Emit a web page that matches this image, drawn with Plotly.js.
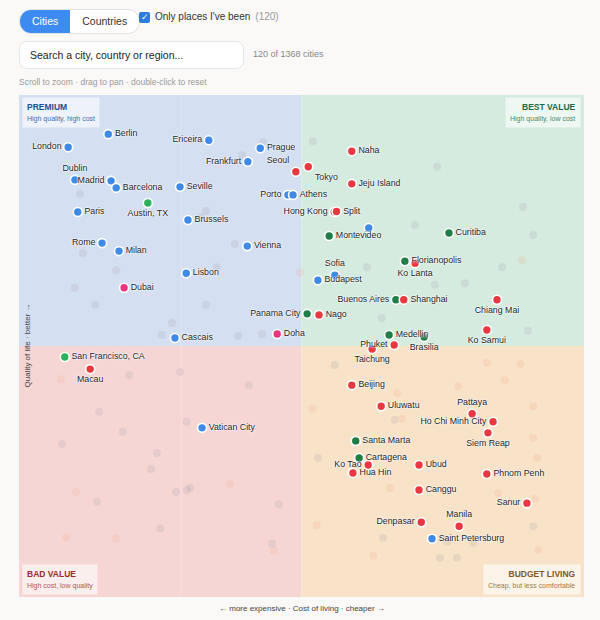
<!DOCTYPE html>
<html><head><meta charset="utf-8">
<script src="https://cdn.plot.ly/plotly-3.0.1.min.js"></script>
<style>
html,body{margin:0;padding:0;background:#faf9f7;font-family:"Liberation Sans",Arial,sans-serif;}
#wrap{position:relative;width:600px;height:620px;overflow:hidden;}
#plot{position:absolute;left:0;top:0;width:600px;height:620px;}
.ui{position:absolute;z-index:5;}
.seg{left:19px;top:9px;height:23px;display:flex;border:1px solid #e3e3e3;border-radius:12px;overflow:hidden;background:#fff;font-size:10.5px;}
.seg div{padding:0 12px;line-height:23px;color:#333;}
.seg .on{background:#3d8bf0;color:#fff;}
.chk{left:139px;top:12px;width:11px;height:11px;background:#2f7be0;border-radius:2px;color:#fff;font-size:9px;line-height:11px;text-align:center;}
.chkl{left:155px;top:11px;font-size:10px;color:#333;}
.chkl span{color:#999;margin-left:5px;}
.search{left:19px;top:41px;width:213px;height:26px;border:1px solid #e6e6e6;border-radius:8px;background:#fff;font-size:10.5px;color:#222;line-height:26px;padding-left:10px;}
.count{left:253px;top:49px;font-size:9px;color:#888;}
.hint{left:19px;top:77px;font-size:8.5px;color:#999;}
</style></head>
<body><div id="wrap">
<div id="plot"></div>
<div class="ui seg"><div class="on">Cities</div><div>Countries</div></div>
<div class="ui chk">✓</div>
<div class="ui chkl">Only places I've been<span>(120)</span></div>
<div class="ui search">Search a city, country or region...</div>
<div class="ui count">120 of 1368 cities</div>
<div class="ui hint">Scroll to zoom · drag to pan · double-click to reset</div>
</div>
<script>
// Visited cities: cost-of-living score (higher = cheaper) and quality-of-life score
const cities = ["London","Berlin","Ericeira","Prague","Frankfurt","Dublin","Madrid","Barcelona","Seville","Austin, TX","Paris","Brussels","Porto","Athens","Seoul","Tokyo","Hong Kong","Split","Naha","Jeju Island","Montevideo","","Curitiba","Sofia","Budapest","Florianopolis","Ko Lanta","Buenos Aires","Shanghai","Chiang Mai","Panama City","Nago","Doha","Cascais","Medellin","Brasilia","Ko Samui","Phuket","Taichung","Beijing","Uluwatu","Pattaya","Ho Chi Minh City","Siem Reap","Santa Marta","Cartagena","Ko Tao","Hua Hin","Ubud","Phnom Penh","Canggu","Sanur","Manila","Denpasar","Saint Petersburg","San Francisco, CA","Macau","Vatican City","Rome","Milan","Vienna","Lisbon","Dubai"];
const costScore = [8.7,15.8,33.6,42.7,40.5,9.9,16.3,17.2,28.5,22.8,10.4,29.9,47.6,48.5,49.0,51.2,55.8,56.2,58.9,58.9,54.9,61.9,76.1,55.9,52.9,68.3,70.1,66.7,68.1,84.6,51.0,53.1,45.7,27.6,65.5,71.7,82.8,66.4,62.5,58.9,64.1,80.2,83.9,83.0,59.6,60.2,61.8,59.1,70.8,82.8,70.8,89.9,77.9,71.2,73.1,8.1,12.6,32.4,14.7,17.7,40.4,29.6,18.6];
const qualityScore = [89.6,92.2,91.0,89.4,86.7,83.1,82.9,81.5,81.7,78.5,76.7,75.1,80.1,80.1,84.7,85.7,76.7,76.8,88.8,82.3,71.9,73.5,72.5,64.1,63.1,66.9,66.5,59.2,59.2,59.2,56.4,56.2,52.4,51.6,52.2,51.8,53.2,50.2,49.4,42.2,38.0,36.5,34.9,32.7,31.1,27.7,26.3,24.7,26.3,24.5,21.3,18.7,14.1,14.9,11.6,47.8,45.4,33.7,70.5,68.9,69.9,64.5,61.6];
const region = ["Europe","Europe","Europe","Europe","Europe","Europe","Europe","Europe","Europe","USA","Europe","Europe","Europe","Europe","Asia","Asia","Asia","Asia","Asia","Asia","Americas","Europe","Americas","Europe","Europe","Americas","Asia","Americas","Asia","Asia","Americas","Asia","Middle East","Europe","Americas","Americas","Asia","Asia","Asia","Asia","Asia","Asia","Asia","Asia","Americas","Americas","Asia","Asia","Asia","Asia","Asia","Asia","Asia","Asia","Europe","USA","Asia","Europe","Europe","Europe","Europe","Europe","Middle East"];
const labelSide = ["middle left","middle right","middle left","middle right","middle left","top center","middle left","middle right","middle right","bottom center","middle right","middle right","middle left","middle right","top left","bottom right","middle left","middle right","middle right","middle right","middle right","middle right","middle right","top center","middle right","middle right","bottom center","middle left","middle right","bottom center","middle left","middle right","middle right","middle right","middle right","bottom center","bottom center","middle left","bottom center","middle right","middle right","top center","middle left","bottom center","middle right","middle right","middle left","middle right","middle right","middle right","middle right","middle left","top center","middle left","middle right","middle right","bottom center","middle right","middle left","middle right","middle right","middle right","middle right"];

// Other (not visited) cities, shown faded
const otherCost = [10.8,33.1,32.2,43.2,39.5,11.3,17.2,9.9,13.5,33.1,27.1,25.3,38.8,43.0,35.0,38.2,52.0,74.0,89.2,70.1,91.0,85.5,78.9,61.6,73.6,64.2,90.1,55.9,66.5,52.9,91.0,64.4,80.4,74.5,77.5,75.8,19.5,28.5,40.7,14.2,29.7,18.4,7.6,24.4,23.4,13.8,27.8,29.7,30.3,46.0,25.0,44.8];
const otherQuality = [80.3,76.9,75.7,90.6,88.0,68.5,65.1,61.6,58.2,58.2,54.6,52.2,52.0,52.4,65.7,70.3,90.8,85.7,77.7,74.1,72.1,65.7,62.5,65.7,62.2,55.6,53.0,46.2,35.3,27.7,14.1,11.8,10.8,7.8,7.8,11.0,44.2,44.8,42.2,36.9,34.9,32.9,30.5,28.7,25.5,18.9,20.9,21.3,21.7,18.5,13.7,10.6];
const otherWarmCost = [49.7,89.0,82.8,88.7,86.0,77.7,66.9,51.9,91.0,67.8,91.0,91.7,65.7,84.8,91.3,52.7,91.9,62.7,7.4,10.1,37.3,8.3,17.2,45.1];
const otherWarmQuality = [64.7,67.1,46.6,46.4,43.2,42.0,40.6,37.6,38.0,35.5,31.7,27.7,21.7,20.7,19.5,14.3,9.4,8.2,43.4,20.9,22.5,11.8,11.6,9.2];

const regionColor = {"Europe":"#3f8ae6","Asia":"#e9383f","Americas":"#1f7d46","USA":"#2bb35c","Middle East":"#e8367c"};

const traces = [
  {type:"scatter",mode:"markers",x:otherCost,y:otherQuality,hoverinfo:"skip",
   marker:{size:8,color:"rgba(150,150,160,0.17)",line:{width:0}}},
  {type:"scatter",mode:"markers",x:otherWarmCost,y:otherWarmQuality,hoverinfo:"skip",
   marker:{size:8,color:"rgba(240,160,130,0.17)",line:{width:0}}},
  {type:"scatter",mode:"markers+text",x:costScore,y:qualityScore,text:cities,
   textposition:labelSide,hoverinfo:"text",
   textfont:{family:"Liberation Sans, Arial, sans-serif",size:8.8,color:"#222",
     shadow:"0 0 2px #fff, 0 0 2px #fff, 0 0 1px #fff"},
   marker:{size:9,color:region.map(r=>regionColor[r]),line:{color:"#fff",width:1.6}}}
];

function quad(x0,x1,y0,y1,c){return {type:"rect",xref:"x",yref:"y",x0:x0,x1:x1,y0:y0,y1:y1,fillcolor:c,line:{width:0},layer:"below"};}
function box(txt,sub,x,y,xa,ya,col,subcol,al,ys){
  return {xref:"paper",yref:"paper",x:x,y:y,xanchor:xa,yanchor:ya,showarrow:false,align:al,
    xshift:(xa==="left"?3:-3),yshift:ys,
    text:"<b>"+txt+"</b><br><span style='font-size:7px;color:"+subcol+"'>"+sub+"</span>",
    font:{family:"Liberation Sans, Arial, sans-serif",size:8.5,color:col},
    bgcolor:"rgba(255,255,255,0.6)",borderpad:4};
}
const layout = {
  width:600,height:620,margin:{l:19,r:16,t:95,b:23},
  paper_bgcolor:"#faf9f7",plot_bgcolor:"#faf9f7",showlegend:false,hovermode:"closest",
  xaxis:{range:[0,100],showgrid:false,zeroline:false,showticklabels:false,ticks:"",fixedrange:true},
  yaxis:{range:[0,100],showgrid:false,zeroline:false,showticklabels:false,ticks:"",fixedrange:true},
  shapes:[quad(0,50,50,100,"#d5dff2"),quad(50,100,50,100,"#d5ebdf"),quad(0,50,0,50,"#f6d6d4"),quad(50,100,0,50,"#f8e3c8"),
    {type:"line",xref:"x",yref:"y",x0:28.7,x1:28.7,y0:0,y1:100,line:{color:"rgba(255,255,255,0.18)",width:1},layer:"below"}],
  annotations:[
    box("PREMIUM","High quality, high cost",0,1,"left","top","#1f4f8f","#3f6fb0","left",-2),
    box("BEST VALUE","High quality, low cost",1,1,"right","top","#1d6a44","#4a8a68","right",-2),
    box("BAD VALUE","High cost, low quality",0,0,"left","bottom","#9e2a2c","#b05555","left",2),
    box("BUDGET LIVING","Cheap, but less comfortable",1,0,"right","bottom","#85581a","#9c7a45","right",2),
    {xref:"paper",yref:"paper",x:0,y:0.5,xanchor:"left",yanchor:"middle",xshift:1,showarrow:false,textangle:-90,
     text:"Quality of life · better →",font:{family:"Liberation Sans, Arial, sans-serif",size:8,color:"#444"}},
    {xref:"paper",yref:"paper",x:0.5,y:0,xanchor:"center",yanchor:"top",yshift:-5,showarrow:false,
     text:"← more expensive · Cost of living · cheaper →",font:{family:"Liberation Sans, Arial, sans-serif",size:8,color:"#444"}}
  ]
};
Plotly.newPlot("plot",traces,layout,{displayModeBar:false,staticPlot:false});
</script>
</body></html>
